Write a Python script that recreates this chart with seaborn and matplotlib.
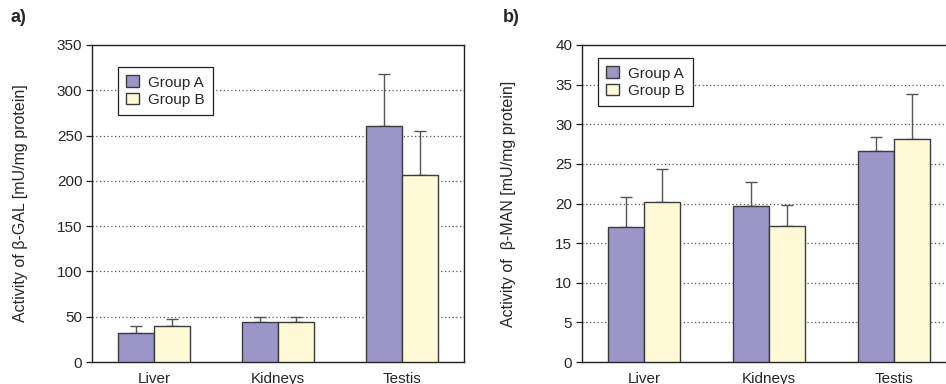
import numpy as np
import pandas as pd
import matplotlib
matplotlib.use("Agg")
import matplotlib.pyplot as plt
import seaborn as sns

# data
organs = ["Liver", "Kidneys", "Testis"]
groups = ["Group A", "Group B"]

gal_a = [32, 44, 261]
gal_b = [40, 44, 207]
gal_err_a = [8, 6, 57]
gal_err_b = [7, 6, 48]

man_a = [17.0, 19.7, 26.6]
man_b = [20.2, 17.1, 28.2]
man_err_a = [3.8, 3.0, 1.8]
man_err_b = [4.1, 2.7, 5.6]

colors = {"Group A": "#9c95c8", "Group B": "#fffad6"}

sns.set_theme(style="white")
plt.rcParams["font.family"] = ["Liberation Sans", "DejaVu Sans"]


def make_df(va, vb, ea, eb):
    rows = []
    for i, o in enumerate(organs):
        rows.append({"organ": o, "group": "Group A", "value": va[i], "err": ea[i]})
    for i, o in enumerate(organs):
        rows.append({"organ": o, "group": "Group B", "value": vb[i], "err": eb[i]})
    return pd.DataFrame(rows)


def draw(ax, df, ymax, step, ylabel, legend_loc, lpad):
    sns.barplot(data=df, x="organ", y="value", hue="group", hue_order=groups,
                order=organs, palette=colors, width=0.58, gap=0, errorbar=None,
                edgecolor="#3c3c3c", linewidth=1.0, saturation=1, ax=ax, zorder=3)
    # upward-only error bars on top of each bar
    for patch, (_, r) in zip(ax.patches, df.iterrows()):
        xc = patch.get_x() + patch.get_width() / 2
        ax.errorbar(xc, r["value"], yerr=[[0], [r["err"]]], fmt="none",
                    ecolor="#555555", elinewidth=1.0, capsize=4, capthick=1.0, zorder=2)
    ax.set_ylim(0, ymax)
    ax.set_yticks(np.arange(0, ymax + step / 2, step))
    ax.set_xlim(-0.5, 2.5)
    ax.yaxis.grid(True, linestyle=(0, (1, 2)), color="#555555", linewidth=0.9)
    ax.set_axisbelow(True)
    ax.set_xlabel("")
    ax.set_ylabel(ylabel, fontsize=11.5, labelpad=lpad)
    ax.tick_params(axis="y", which="major", left=True, length=4, width=0.9,
                   color="#222222", labelsize=11, pad=3)
    ax.tick_params(axis="x", bottom=False, labelsize=11, pad=1)
    for s in ax.spines.values():
        s.set_color("#222222")
        s.set_linewidth(1.0)
    handles, labels = ax.get_legend_handles_labels()
    leg = ax.legend(handles, labels, loc="upper left", bbox_to_anchor=legend_loc,
                    fontsize=11, frameon=True, fancybox=False, edgecolor="#222222",
                    handlelength=0.8, handleheight=0.8, handletextpad=0.6,
                    borderpad=0.55, labelspacing=0.2, framealpha=1,
                    borderaxespad=0)
    leg.get_frame().set_linewidth(0.9)


fig = plt.figure(figsize=(9.46, 3.84), dpi=100)
W, H = 946, 384
ax1 = fig.add_axes([92 / W, 1 - 362 / H, 372 / W, 317 / H])
ax2 = fig.add_axes([582 / W, 1 - 362 / H, 374 / W, 317 / H])

draw(ax1, make_df(gal_a, gal_b, gal_err_a, gal_err_b), 350, 50,
     "Activity of \u03b2-GAL [mU/mg protein]", (26 / 372, 1 - 22 / 317), 21)
draw(ax2, make_df(man_a, man_b, man_err_a, man_err_b), 40, 5,
     "Activity of  \u03b2-MAN [mU/mg protein]", (16 / 374, 1 - 13 / 317), 28)

fig.text(10 / W, 1 - 18 / H, "a)", fontsize=13, fontweight="bold", va="center")
fig.text(503 / W, 1 - 18 / H, "b)", fontsize=13, fontweight="bold", va="center")

fig.savefig("out.png", dpi=100)
